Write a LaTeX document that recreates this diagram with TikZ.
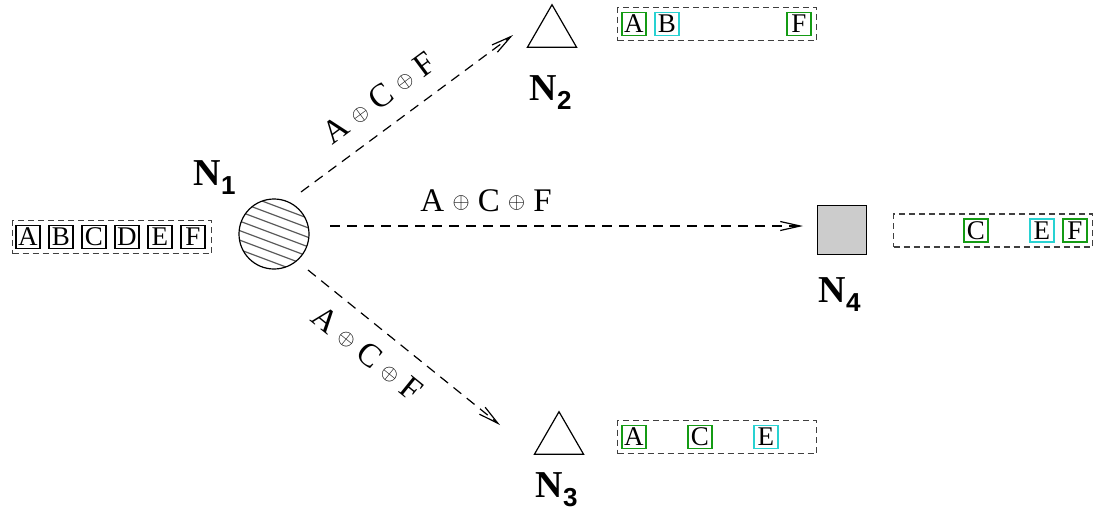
\documentclass[tikz,border=0pt]{standalone}
\usepackage{fontspec}
\setmainfont{Liberation Serif}
\setsansfont{Liberation Sans}
\usepackage{xcolor}
\usepackage{tikz}
\usetikzlibrary{arrows.meta,shapes.geometric}

\definecolor{xgreen}{RGB}{20,155,20}
\definecolor{xcyan}{RGB}{40,210,210}
\newcommand{\xo}{\raisebox{1.2pt}{\fontsize{11}{11}\selectfont$\oplus$}}
\newcommand{\nsub}[1]{\raisebox{-4.5pt}{\fontsize{13}{13}\selectfont\sffamily\bfseries #1}}

\begin{document}
\begin{tikzpicture}[
        x=0.5pt, y=-0.5pt, line width=0.6pt,
        strip/.style={draw=black!75, dash pattern=on 3pt off 2pt, minimum width=99.5pt, minimum height=16.5pt, inner sep=0},
        cell/.style={draw, minimum width=12pt, minimum height=11.5pt, inner sep=0, font=\fontsize{13.5}{14}\selectfont},
        flow/.style={dash pattern=on 5pt off 3.5pt, -{Straight Barb[length=10pt,width=4.5pt]}},
        elab/.style={inner sep=0, font=\fontsize{16.5}{18}\selectfont},
        nlab/.style={inner sep=0, anchor=base west, font=\fontsize{19}{20}\selectfont\bfseries},
        tri/.style={draw, regular polygon, regular polygon sides=3, minimum size=28.3pt, inner sep=0}
      ]
      \useasboundingbox (0,0) rectangle (1099,510);

      \node[circle, draw, minimum size=35pt, inner sep=0,
        path picture={
          \foreach \i in {-4,...,4}
            \draw[black!65, line width=0.6pt] ([shift={(-40,\i*9.5-15)}]path picture bounding box.center) -- ++(80,30);
        }] (n1) at (274,234) {};
      \node[tri] (n2) at (552,33) {};
      \node[tri] (n3) at (559,440) {};
      \node[draw, fill=gray!40, minimum size=24.5pt, inner sep=0] (n4) at (842,230) {};

      \node[nlab] (l1) at (193,185) {N\nsub{1}};
      \node[nlab] (l2) at (529,100) {N\nsub{2}};
      \node[nlab] (l3) at (535,497) {N\nsub{3}};
      \node[nlab] (l4) at (818,302) {N\nsub{4}};

      % what each node holds
      \node[strip] (s1) at (112,237) {};
      \node[strip] (s2) at (717,24) {};
      \node[strip] (s3) at (717,437) {};
      \node[strip] (s4) at (993,230.5) {};

      \foreach \l [count=\k from 0] in {A,B,C,D,E,F}
        \node[cell] at ([xshift=8pt+\k*16.5pt]s1.west) {\l};
      \foreach \l/\c/\k in {A/xgreen/0, B/xcyan/1, F/xgreen/5}
        \node[cell, draw=\c] at ([xshift=8.5pt+\k*16.5pt]s2.west) {\l};
      \foreach \l/\c/\k in {A/xgreen/0, C/xgreen/2, E/xcyan/4}
        \node[cell, draw=\c] at ([xshift=8.5pt+\k*16.5pt]s3.west) {\l};
      \foreach \l/\c/\k in {C/xgreen/2, E/xcyan/4, F/xgreen/5}
        \node[cell, draw=\c] at ([xshift=8.5pt+\k*16.5pt]s4.west) {\l};

      \draw[flow] ([shift={(27,-42)}]n1.center) -- ([shift={(-39,2)}]n2.center)
        node[elab, pos=0.45, sloped, above=9pt] {A \xo{} C \xo{} F};
      \draw[flow] ([shift={(56,-8)}]n1.center) -- ([shift={(-39,-4)}]n4.center)
        node[elab, pos=0.33, above=7pt] {A \xo{} C \xo{} F};
      \draw[flow] ([shift={(34,36)}]n1.center) -- ([shift={(-59,-15)}]n3.center)
        node[elab, pos=0.40, sloped, below=8pt] {A \xo{} C \xo{} F};

    \end{tikzpicture}
\end{document}
